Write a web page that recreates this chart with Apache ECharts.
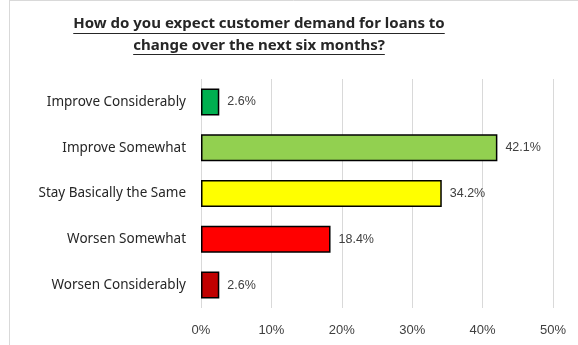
<!DOCTYPE html>
<html>
<head>
<meta charset="utf-8">
<script src="https://cdn.jsdelivr.net/npm/echarts@6/dist/echarts.min.js"></script>
<style>
  html, body { margin: 0; padding: 0; background: #fff; }
  #chart { width: 578px; height: 345px; }
</style>
</head>
<body>
<div id="chart"></div>
<script>
// Survey responses on expected loan demand (share of respondents, %)
const titleLines = [
  'How do you expect customer demand for loans to',
  'change over the next six months?'
];
const categories = [
  'Improve Considerably',
  'Improve Somewhat',
  'Stay Basically the Same',
  'Worsen Somewhat',
  'Worsen Considerably'
];
const values = [2.6, 42.1, 34.2, 18.4, 2.6];
const barColors = ['#00B050', '#92D050', '#FFFF00', '#FF0000', '#C00000'];
const xTicks = [0, 10, 20, 30, 40, 50];

const titleFont = 'bold 15px "Noto Sans"';
const titleCenterX = 259;
const titleMiddles = [24, 46];
const underlineYs = [33.5, 54.5];

// measure title lines so the underline spans each line exactly
const ctx = document.createElement('canvas').getContext('2d');
ctx.font = titleFont;

const graphics = [
  // outer frame edges
  { type: 'line', shape: { x1: 9.5, y1: 0, x2: 9.5, y2: 345 }, style: { stroke: '#d9d9d9', lineWidth: 1 } },
  { type: 'line', shape: { x1: 9, y1: 0.5, x2: 578, y2: 0.5 }, style: { stroke: '#d9d9d9', lineWidth: 1 } }
];
titleLines.forEach((t, i) => {
  const w = ctx.measureText(t).width;
  graphics.push({
    type: 'text',
    style: {
      text: t, x: titleCenterX, y: titleMiddles[i],
      align: 'center', verticalAlign: 'middle',
      font: titleFont, fill: '#262626'
    }
  });
  graphics.push({
    type: 'line',
    shape: { x1: titleCenterX - w / 2, y1: underlineYs[i], x2: titleCenterX + w / 2, y2: underlineYs[i] },
    style: { stroke: '#262626', lineWidth: 1 }
  });
});

const chart = echarts.init(document.getElementById('chart'), null, { renderer: 'canvas' });
chart.setOption({
  animation: false,
  backgroundColor: '#ffffff',
  graphic: graphics,
  grid: { left: 201, right: 25, top: 79, bottom: 37, containLabel: false },
  xAxis: {
    type: 'value',
    min: xTicks[0],
    max: xTicks[xTicks.length - 1],
    interval: 10,
    axisLine: { show: false },
    axisTick: { show: false },
    splitLine: { show: true, lineStyle: { color: '#d9d9d9', width: 1 } },
    axisLabel: {
      formatter: v => v + '%',
      color: '#404040',
      fontFamily: 'Liberation Sans',
      fontSize: 13,
      margin: 16
    }
  },
  yAxis: {
    type: 'category',
    data: categories,
    inverse: true,
    axisLine: { show: false },
    axisTick: { show: false },
    axisLabel: {
      color: '#262626',
      fontFamily: 'Noto Sans',
      fontSize: 13.5,
      margin: 15
    }
  },
  series: [{
    type: 'bar',
    data: values.map((v, i) => ({ value: v, itemStyle: { color: barColors[i] } })),
    barCategoryGap: '41%',
    itemStyle: { borderColor: '#000000', borderWidth: 1.5 },
    label: {
      show: true,
      position: 'right',
      distance: 8,
      formatter: p => p.value.toFixed(1) + '%',
      color: '#404040',
      fontFamily: 'Liberation Sans',
      fontSize: 12.5
    }
  }]
});
</script>
</body>
</html>
